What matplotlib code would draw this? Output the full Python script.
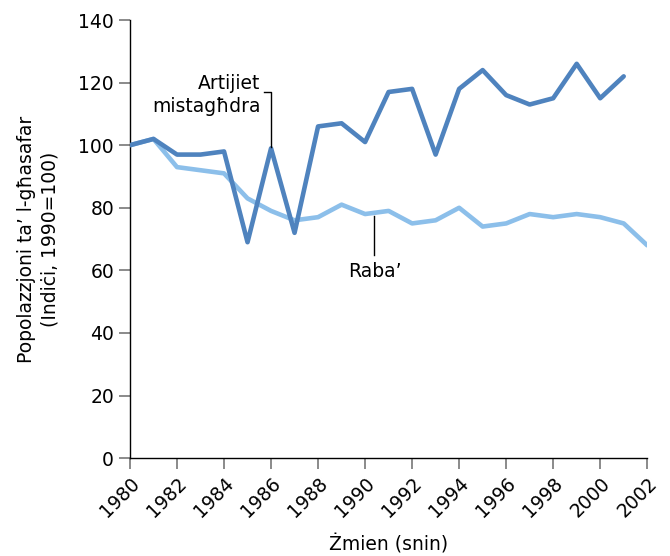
import matplotlib
matplotlib.use("Agg")
import matplotlib.pyplot as plt

# data
years_artijiet = list(range(1980, 2002))
artijiet = [100, 102, 97, 97, 98, 69, 99, 72, 106, 107, 101,
            117, 118, 97, 118, 124, 116, 113, 115, 126, 115, 122]

years_raba = list(range(1980, 2003))
raba = [100, 102, 93, 92, 91, 83, 79, 76, 77, 81, 78,
        79, 75, 76, 80, 74, 75, 78, 77, 78, 77, 75, 68]

x_ticks = list(range(1980, 2003, 2))
y_ticks = list(range(0, 141, 20))

dark = "#4f83be"
light = "#8cbfea"
fs = 13.5

plt.rcParams["font.family"] = ["DejaVu Sans"]
plt.rcParams["font.size"] = fs

fig = plt.figure(figsize=(6.7, 5.56), dpi=100)
ax = fig.add_axes([0.194, 0.176, 0.772, 0.788])

ax.plot(years_raba, raba, color=light, lw=3.3, solid_joinstyle="round",
        solid_capstyle="round", zorder=2)
ax.plot(years_artijiet, artijiet, color=dark, lw=3.3, solid_joinstyle="round",
        solid_capstyle="round", zorder=3)

ax.set_xlim(1980, 2002)
ax.set_ylim(0, 140)
ax.set_xticks(x_ticks)
ax.set_yticks(y_ticks)
ax.set_xticklabels([str(t) for t in x_ticks], rotation=45, ha="right",
                   rotation_mode="anchor")

for side in ("top", "right"):
    ax.spines[side].set_visible(False)
for side in ("left", "bottom"):
    ax.spines[side].set_color("black")
    ax.spines[side].set_linewidth(1.0)
ax.tick_params(axis="both", direction="out", length=8, width=1.2,
               color="#777777", labelsize=fs)
ax.tick_params(axis="x", pad=3)

ax.set_xlabel("Żmien (snin)", fontsize=fs)
ax.xaxis.set_label_coords(0.5, -0.175)
ax.set_ylabel("Popolazzjoni ta’ l-għasafar\n(Indiċi, 1990=100)",
              fontsize=fs, linespacing=1.3, va="center")
ax.yaxis.set_label_coords(-0.178, 0.5)

# annotations with leader lines
ax.plot([1985.7, 1986, 1986], [117, 117, 99.5], color="black", lw=1.0, zorder=4)
ax.text(1985.55, 116, "Artijiet\nmistagħdra", ha="right", va="center",
        fontsize=fs, linespacing=1.25)

ax.plot([1990.4, 1990.4], [77.5, 65], color="black", lw=1.0, zorder=4)
ax.text(1990.4, 59.5, "Raba’", ha="center", va="center", fontsize=fs)

fig.savefig("out.png", dpi=100)
